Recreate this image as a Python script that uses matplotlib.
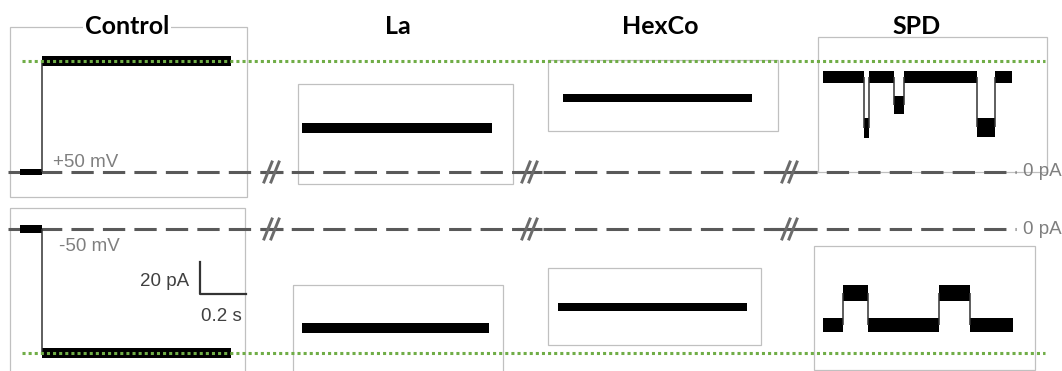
import matplotlib.pyplot as plt
from matplotlib.patches import Rectangle

W, H = 1062, 371

titles = ['Control', 'La', 'HexCo', 'SPD']
voltages = ['+50 mV', '-50 mV']

# segment edges (s), mean current (pA) and noise half-width (pA) of each trace
# +50 mV row
ctrl_p_t = [0.0, 0.096, 0.917]
ctrl_p_i = [0.0, 69.4]
ctrl_p_n = [1.8, 3.0]
la_p_t = [0.0, 0.826]
la_p_i = [27.5]
la_p_n = [3.0]
hex_p_t = [0.0, 0.822]
hex_p_i = [46.2]
hex_p_n = [2.5]
spd_p_t = [0.0, 0.178, 0.200, 0.309, 0.352, 0.670, 0.748, 0.822]
spd_p_i = [59.4, 27.5, 59.4, 42.0, 59.4, 28.0, 59.4]
spd_p_n = [3.8, 6.0, 3.8, 5.5, 3.8, 6.0, 3.8]

# -50 mV row
ctrl_m_t = [0.0, 0.096, 0.917]
ctrl_m_i = [0.0, -77.5]
ctrl_m_n = [2.2, 3.0]
la_m_t = [0.0, 0.813]
la_m_i = [-61.9]
la_m_n = [3.0]
hex_m_t = [0.0, 0.822]
hex_m_i = [-48.8]
hex_m_n = [2.7]
spd_m_t = [0.0, 0.087, 0.196, 0.504, 0.639, 0.826]
spd_m_i = [-60.0, -40.0, -60.0, -40.0, -60.0]
spd_m_n = [4.5, 5.0, 4.5, 5.0, 4.5]

# scale bar
bar_pA = 20
bar_s = 0.2

# --- layout (pixels) ---
PX_PER_S = 230.0
PX_PER_PA = 1.6
row_zero = [172, 229]
row_span = [(0, 200), (200, 371)]
trace_x0 = [[20, 302, 563, 823], [20, 302, 558, 823]]
boxes = [[(10, 27, 247, 197), (298, 84, 513, 184), (548, 60, 778, 131), (818, 37, 1047, 172)],
         [(10, 208, 245, 375), (293, 285, 503, 375), (548, 268, 761, 345), (814, 246, 1035, 370)]]
title_x = [127, 398, 660, 917]
break_x = [272, 530, 790]
break_solid = [(261, 283), (517, 542), (770, 816)]

dash_col = '#595959'
label_col = '#7f7f7f'
green = '#70ad47'

fig = plt.figure(figsize=(W / 100, H / 100), dpi=100)

deco = fig.add_axes([0, 0, 1, 1])
deco.set_xlim(0, W)
deco.set_ylim(H, 0)
deco.axis('off')

for row in boxes:
    for (l, t, r, b) in row:
        deco.add_patch(Rectangle((l, t), r - l, b - t, fill=False, ec='#c0c0c0', lw=0.9))

for y in row_zero:
    deco.plot([8, 1016], [y, y], color=dash_col, lw=2.2, ls=(0, (7.3, 3.0)))
    for (a, b), bx in zip(break_solid, break_x):
        deco.plot([a, b], [y, y], color=dash_col, lw=2.2, solid_capstyle='butt')
        for dx in (-4, 3):
            deco.plot([bx + dx - 4, bx + dx + 4], [y + 10, y - 10], color='#6b6b6b', lw=2.1)
    deco.text(1023, y, '0 pA', color=label_col, fontsize=13.5, va='center', ha='left',
              family='Liberation Sans')

for name, x in zip(titles, title_x):
    txt = deco.text(x, 34, name, fontsize=18, fontweight='bold', ha='center', va='baseline',
                    family='Lato')
    if name == 'Control':
        txt.set_bbox(dict(facecolor='white', edgecolor='none', pad=1))

deco.text(53, 167, voltages[0], color=label_col, fontsize=13.5, family='Liberation Sans')
deco.text(59, 251, voltages[1], color=label_col, fontsize=13.5, family='Liberation Sans')

# scale bar
sb_x, sb_y = 200, 294
deco.plot([sb_x, sb_x, sb_x + bar_s * PX_PER_S], [sb_y - bar_pA * PX_PER_PA, sb_y, sb_y],
          color='#333333', lw=1.6)
deco.text(sb_x - 11, 286, f'{bar_pA} pA', color='#404040', fontsize=13.5, ha='right',
          family='Liberation Sans')
deco.text(sb_x + 1, 321, f'{bar_s} s', color='#404040', fontsize=13.5, ha='left',
          family='Liberation Sans')


def trace_axes(x0, t_end, zero, top, bot):
    ax = fig.add_axes([x0 / W, 1 - bot / H, t_end * PX_PER_S / W, (bot - top) / H])
    ax.set_xlim(0, t_end)
    ax.set_ylim((zero - bot) / PX_PER_PA, (zero - top) / PX_PER_PA)
    ax.axis('off')
    return ax


def draw_trace(ax, t, i, n):
    for k in range(len(i)):
        ax.fill_between([t[k], t[k + 1]], i[k] - n[k], i[k] + n[k], color='black', lw=0)
        if k > 0:
            ax.vlines(t[k], i[k - 1], i[k], color='#333333', lw=1.1)


traces = [
    [(ctrl_p_t, ctrl_p_i, ctrl_p_n), (la_p_t, la_p_i, la_p_n),
     (hex_p_t, hex_p_i, hex_p_n), (spd_p_t, spd_p_i, spd_p_n)],
    [(ctrl_m_t, ctrl_m_i, ctrl_m_n), (la_m_t, la_m_i, la_m_n),
     (hex_m_t, hex_m_i, hex_m_n), (spd_m_t, spd_m_i, spd_m_n)],
]

for r in range(2):
    top, bot = row_span[r]
    for c in range(4):
        t, i, n = traces[r][c]
        ax = trace_axes(trace_x0[r][c], t[-1], row_zero[r], top, bot)
        draw_trace(ax, t, i, n)

    # green reference line at the control open level, on top of traces
    ov = fig.add_axes([0, 1 - bot / H, 1, (bot - top) / H])
    ov.set_xlim(0, W)
    ov.set_ylim((row_zero[r] - bot) / PX_PER_PA, (row_zero[r] - top) / PX_PER_PA)
    ov.axis('off')
    ov.hlines(traces[r][0][1][-1], 22, 1045, color=green, lw=2.2, linestyles=(0, (1, 1)))

fig.savefig('out.png', dpi=100)
